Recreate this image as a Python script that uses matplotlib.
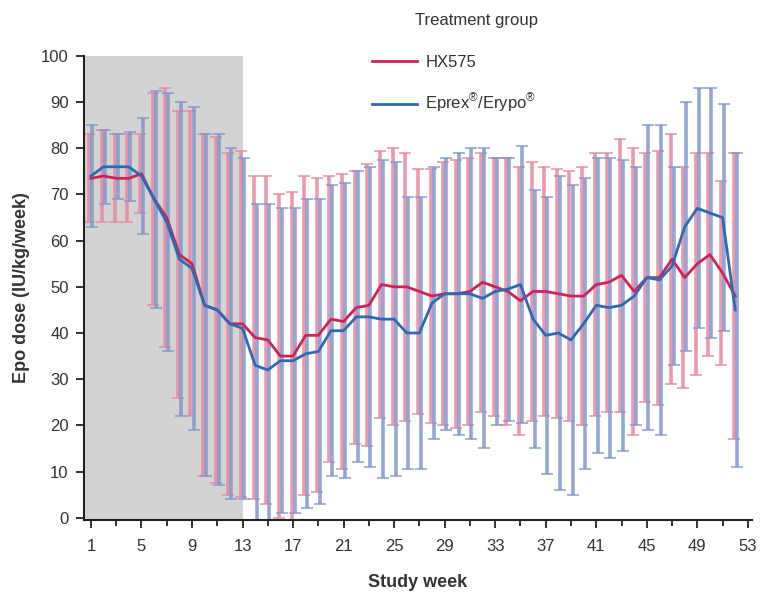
import numpy as np
import matplotlib
matplotlib.use("Agg")
import matplotlib.pyplot as plt

plt.rcParams['font.family'] = ['Liberation Sans', 'DejaVu Sans']
plt.rcParams['mathtext.fontset'] = 'custom'
plt.rcParams['mathtext.rm'] = 'Liberation Sans'

# data
weeks = list(range(1, 53))
hx575_mean = [73.5, 74, 73.5, 73.5, 74.5, 69, 65, 57, 55, 46,
              45, 42, 42, 39, 38.5, 35, 35, 39.5, 39.5, 43,
              42.5, 45.5, 46, 50.5, 50, 50, 49, 48, 48.5, 48.5,
              49, 51, 50, 49, 47, 49, 49, 48.5, 48, 48,
              50.5, 51, 52.5, 49, 52, 52, 56, 52, 55, 57,
              53, 48]
hx575_upper = [83, 84, 83, 83, 83, 92, 93, 88, 88, 83,
               82.5, 79, 79.5, 74, 74, 70, 70.5, 74, 73.5, 74,
               74.5, 75, 76.5, 79.5, 80, 79, 75.5, 75.5, 77, 77.5,
               78, 79, 78, 78, 76, 77, 76, 75.5, 75, 76,
               79, 79, 82, 80, 79, 79.5, 83, 76, 79, 79,
               73, 79]
eprex_mean = [74, 76, 76, 76, 74, 69, 64, 56, 54, 46,
              45, 42, 41, 33, 32, 34, 34, 35.5, 36, 40.5,
              40.5, 43.5, 43.5, 43, 43, 40, 40, 46.5, 48.5, 48.5,
              48.5, 47.5, 49, 49.5, 50.5, 43, 39.5, 40, 38.5, 42,
              46, 45.5, 46, 48, 52, 51.5, 54.5, 63, 67, 66,
              65, 45]
eprex_upper = [85, 84, 83, 83.5, 86.5, 92.5, 92, 90, 89, 83,
               83, 80, 78, 68, 68, 67, 67, 69, 69, 72,
               72.5, 75, 76, 77.5, 77, 69.5, 69.5, 76, 78, 79,
               80, 80, 78, 78, 80.5, 71, 69.5, 74, 72, 73.5,
               78, 78, 77.5, 76, 85, 85, 76, 90, 93, 93,
               89.5, 79]

x = np.array(weeks)
hx_m = np.array(hx575_mean)
hx_sd = np.array(hx575_upper) - hx_m
ep_m = np.array(eprex_mean)
ep_sd = np.array(eprex_upper) - ep_m

red = '#cf2358'
blue = '#2c6bb3'

fig = plt.figure(figsize=(7.6, 5.98), dpi=100)
ax = fig.add_axes([0.1105, 0.1304, 0.8785, 0.776])

# shaded titration period
ax.axvspan(0.45, 13, color='#d3d3d3', lw=0, zorder=0)

ax.errorbar(x - 0.12, hx_m, yerr=hx_sd, fmt='none', ecolor='#e8889f',
            elinewidth=2.6, capsize=4, capthick=1.2, alpha=0.85, zorder=1)
ax.errorbar(x + 0.12, ep_m, yerr=ep_sd, fmt='none', ecolor='#7f98cc',
            elinewidth=2.6, capsize=4, capthick=1.2, alpha=0.85, zorder=1)

ax.plot(x, hx_m, color=red, lw=2, label='HX575', zorder=3)
ax.plot(x, ep_m, color=blue, lw=2, label='Eprex$^{®}$/Erypo$^{®}$', zorder=3)

ax.set_xlim(0.45, 53.3)
ax.set_ylim(-0.5, 100)
ax.set_xticks(range(1, 54, 4))
ax.xaxis.set_minor_locator(plt.FixedLocator(range(3, 54, 4)))
ax.set_yticks(range(0, 101, 10))
ax.tick_params(axis='both', which='major', length=6, width=1.3, pad=5,
               labelsize=12, colors='#222222', labelcolor='#333333')
ax.tick_params(axis='x', which='minor', length=4, width=1.3, colors='#222222')
ax.tick_params(axis='x', which='major', pad=8)
for s in ['top', 'right']:
    ax.spines[s].set_visible(False)
for s in ['left', 'bottom']:
    ax.spines[s].set_linewidth(1.5)
    ax.spines[s].set_color('#222222')

ax.set_xlabel('Study week', fontsize=13, fontweight='bold', color='#333333', labelpad=14)
ax.set_ylabel('Epo dose (IU/kg/week)', fontsize=13, fontweight='bold', color='#333333', labelpad=8)

fig.text(415 / 760, 1 - 20 / 598, 'Treatment group', fontsize=12,
         color='#333333', va='center', ha='left')
leg = ax.legend(loc='upper left', bbox_to_anchor=(372 / 760, 1 - 55 / 598),
                bbox_transform=fig.transFigure, frameon=False, fontsize=12,
                handlelength=2.7, handletextpad=0.5, labelspacing=1.3,
                borderpad=0, borderaxespad=0)
for t in leg.get_texts():
    t.set_color('#333333')

fig.savefig('out.png', dpi=100)
